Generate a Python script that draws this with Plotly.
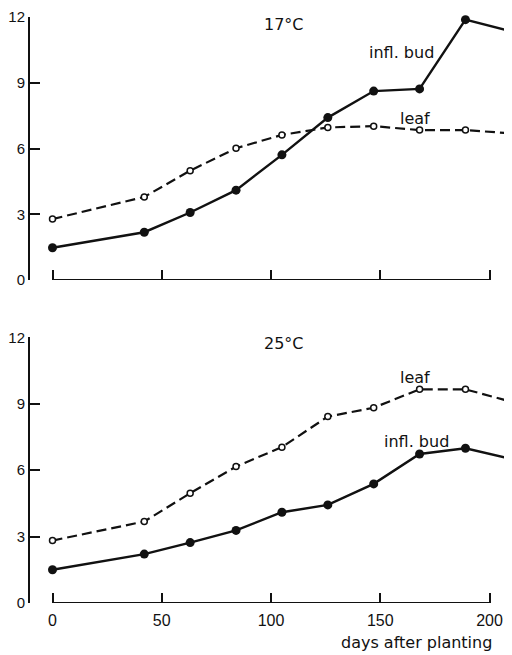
import plotly.graph_objects as go
from plotly.subplots import make_subplots

days = [0, 42, 63, 84, 105, 126, 147, 168, 189, 210]
bud_17 = [1.47, 2.18, 3.08, 4.10, 5.71, 7.41, 8.62, 8.72, 11.88, 11.35]
leaf_17 = [2.78, 3.79, 4.99, 6.01, 6.62, 6.96, 7.02, 6.84, 6.84, 6.69]
leaf_25 = [2.82, 3.68, 4.96, 6.16, 7.04, 8.42, 8.82, 9.65, 9.65, 9.09]
bud_25 = [1.50, 2.21, 2.73, 3.28, 4.10, 4.43, 5.38, 6.73, 6.99, 6.51]

x_ticks = [0, 50, 100, 150, 200]
y_ticks = [0, 3, 6, 9, 12]
panel_titles = ["17°C", "25°C"]
x_title = "days after planting"

FONT = "DejaVu Sans"
TICKFONT = "Liberation Sans"
FS = 16
BLACK = "#111111"

fig = make_subplots(rows=2, cols=1, vertical_spacing=0.0)

def add_panel(row, bud, leaf):
    fig.add_trace(go.Scatter(
        x=days, y=leaf, mode="lines+markers",
        line=dict(color=BLACK, width=2.2, dash="10px,5px"),
        marker=dict(symbol="circle", size=6, color="white",
                    line=dict(color=BLACK, width=1.5)),
        showlegend=False, cliponaxis=False), row=row, col=1)
    fig.add_trace(go.Scatter(
        x=days, y=bud, mode="lines+markers",
        line=dict(color=BLACK, width=2.4),
        marker=dict(symbol="circle", size=9, color=BLACK),
        showlegend=False, cliponaxis=False), row=row, col=1)

add_panel(1, bud_17, leaf_17)
add_panel(2, bud_25, leaf_25)

xr = [-10.3, 210.3]
for row in (1, 2):
    fig.update_xaxes(range=xr, showline=False, showgrid=False, zeroline=False,
                     automargin=False,
                     tickvals=x_ticks, ticks="inside", ticklen=10, tickwidth=2,
                     tickcolor=BLACK, showticklabels=(row == 2),
                     ticklabelstandoff=6,
                     tickfont=dict(family=TICKFONT, size=16, color=BLACK),
                     row=row, col=1)
    fig.update_yaxes(range=[0, 12], showline=True, linecolor=BLACK, linewidth=2,
                     showgrid=False, zeroline=False, tickvals=y_ticks,
                     automargin=False, ticklabeloverflow="allow",
                     ticks="inside", ticklen=10, tickwidth=2, tickcolor=BLACK,
                     ticklabelstandoff=0,
                     tickfont=dict(family=TICKFONT, size=15, color=BLACK),
                     row=row, col=1)
    xref = "x" if row == 1 else "x2"
    yref = "y" if row == 1 else "y2"
    fig.add_shape(type="line", xref=xref, yref=yref,
                  x0=x_ticks[0], x1=x_ticks[-1], y0=0, y1=0,
                  line=dict(color=BLACK, width=2))

# page body has an 8px default margin, so the figure is sized to compensate
fig.update_layout(
    width=504, height=647,
    margin=dict(l=22, r=0, t=9, b=52),
    paper_bgcolor="white", plot_bgcolor="white",
    font=dict(family=FONT, size=FS, color=BLACK),
)
fig.update_yaxes(domain=[0.5512, 1.0], row=1, col=1)
fig.update_yaxes(domain=[0.0, 0.4534], row=2, col=1)

ann = [
    ("x", "y", 106, 11.64, panel_titles[0]),
    ("x", "y", 159.5, 10.37, "infl. bud"),
    ("x", "y", 166, 7.35, "leaf"),
    ("x2", "y2", 106, 11.74, panel_titles[1]),
    ("x2", "y2", 166, 10.2, "leaf"),
    ("x2", "y2", 166.5, 7.28, "infl. bud"),
]
for xr_, yr_, x, y, t in ann:
    fig.add_annotation(xref=xr_, yref=yr_, x=x, y=y, text=t, showarrow=False,
                       font=dict(family=FONT, size=FS, color=BLACK))

fig.add_annotation(xref="x2", yref="paper", x=202, y=0, yshift=-39,
                   xanchor="right", yanchor="middle", text=x_title,
                   showarrow=False, font=dict(family=FONT, size=FS, color=BLACK))

fig.write_html("out.html")
